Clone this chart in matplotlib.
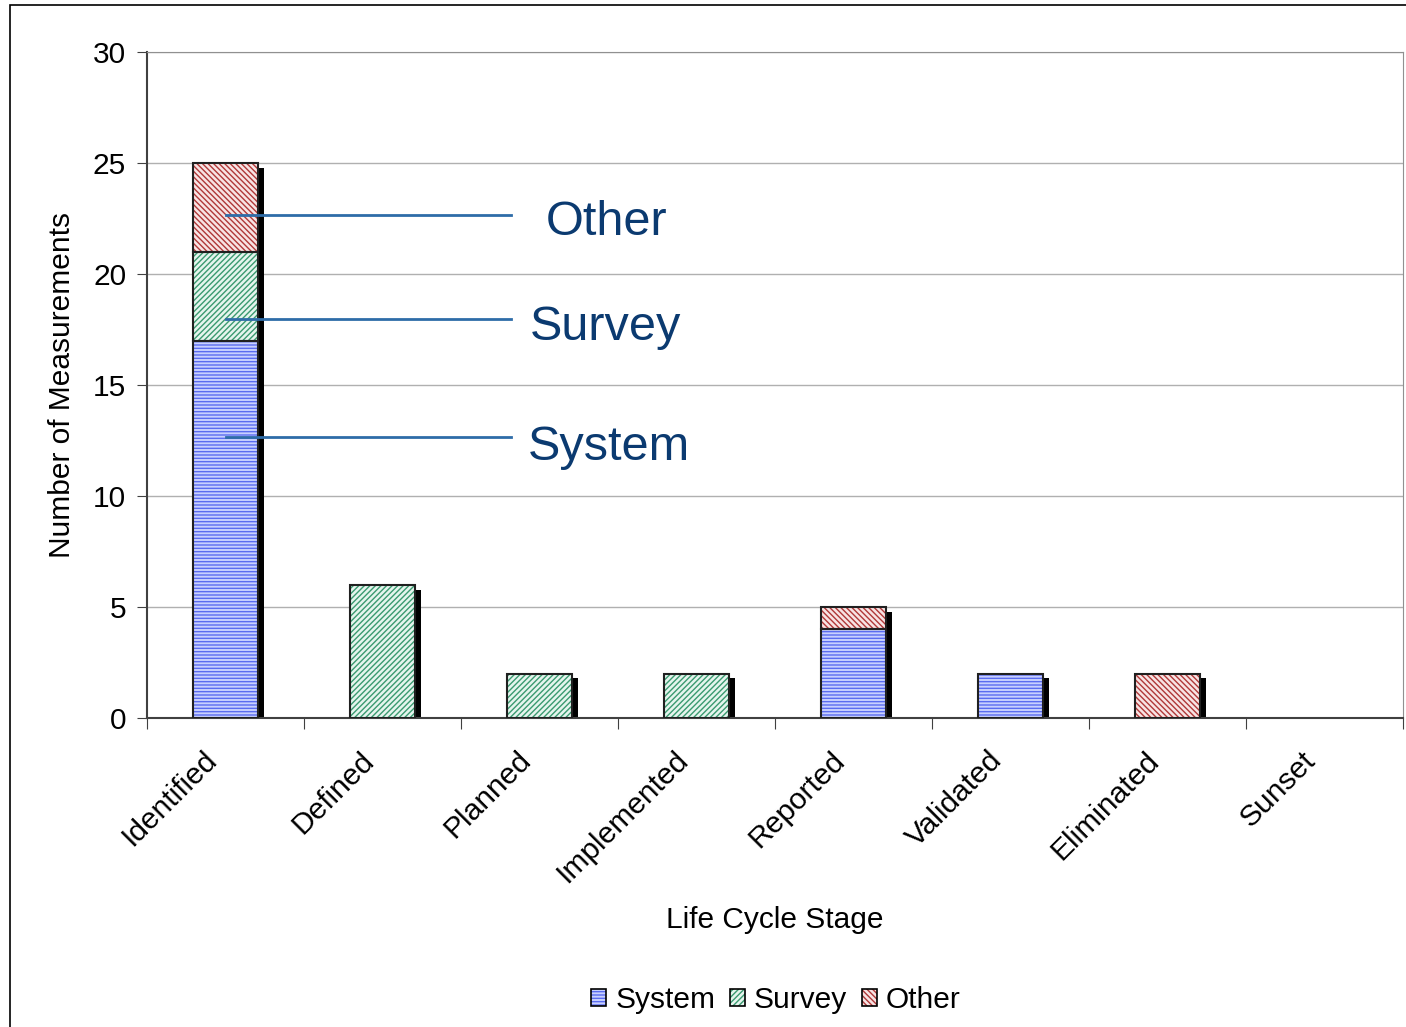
import numpy as np
import matplotlib
matplotlib.use("Agg")
import matplotlib.pyplot as plt
import matplotlib.transforms as mtransforms
from matplotlib.patches import Rectangle
from matplotlib.legend_handler import HandlerTuple

plt.rcParams['font.family'] = ['Liberation Sans', 'DejaVu Sans']

stages = ["Identified", "Defined", "Planned", "Implemented",
          "Reported", "Validated", "Eliminated", "Sunset"]
system = [17, 0, 0, 0, 4, 2, 0, 0]
survey = [4, 6, 2, 2, 0, 0, 0, 0]
other = [4, 0, 0, 0, 1, 0, 2, 0]

series = [("System", system, "#c8d0ff", "#5a6cf0", "-----"),
          ("Survey", survey, "#e6f5ee", "#3a9a70", "//////"),
          ("Other", other, "#f8e4e4", "#b03838", "\\\\\\\\\\\\")]

FS = 21.5

fig = plt.figure(figsize=(14.06, 10.27), dpi=100)
# outer chart border
fig.patches.append(Rectangle((10 / 1406, -0.01), 1.0, 1 - 5 / 1027 + 0.01,
                             transform=fig.transFigure, fill=False,
                             edgecolor="black", linewidth=1.2))
ax = fig.add_axes([147 / 1406, 309 / 1027, 1256 / 1406, 666 / 1027])

x = np.arange(len(stages))
width = 0.41
dx, dy = 0.04, 0.22  # shadow offset in data units

bottom = np.zeros(len(stages))
for name, vals, face, hcol, hatch in series:
    vals = np.array(vals, dtype=float)
    has = vals > 0
    for i in np.where(has)[0]:
        # shadow
        ax.add_patch(Rectangle((x[i] - width / 2 + dx, bottom[i] - dy),
                               width, vals[i], facecolor="black",
                               edgecolor="none", zorder=2))
    ax.bar(x[has], vals[has], width, bottom=bottom[has], color=face,
           hatch=hatch, edgecolor=hcol, linewidth=0, zorder=3)
    ax.bar(x[has], vals[has], width, bottom=bottom[has], fill=False,
           edgecolor="#202020", linewidth=1.5, zorder=4)
    bottom += vals

ax.set_xlim(-0.5, len(stages) - 0.5)
ax.set_ylim(0, 30)
ax.set_yticks(range(0, 31, 5))
ax.yaxis.grid(True, color="#b0b0b0", linewidth=1)
ax.set_axisbelow(True)

# category boundaries as ticks, names placed as rotated text
ax.set_xticks(np.arange(len(stages) + 1) - 0.5)
ax.set_xticklabels([])
ax.tick_params(axis="x", length=8, direction="out", color="#404040")
ax.tick_params(axis="y", length=7, labelsize=FS, color="#404040", pad=8)
shift = mtransforms.ScaledTranslation(-0.13, -0.38, fig.dpi_scale_trans)
for xi, name in zip(x, stages):
    ax.text(xi, 0, name, fontsize=FS, rotation=45, ha="right", va="center",
            rotation_mode="anchor", transform=ax.transData + shift,
            clip_on=False)

for s in ["top", "right"]:
    ax.spines[s].set_color("#909090")
for s in ["left", "bottom"]:
    ax.spines[s].set_color("#404040")
    ax.spines[s].set_linewidth(1.5)

ax.set_ylabel("Number of Measurements", fontsize=FS, labelpad=12)
fig.text(775 / 1406, 1 - 920 / 1027, "Life Cycle Stage", fontsize=FS,
         ha="center", va="center")

# callouts on the first bar
labels = ["Other", "Survey", "System"]
line_y = [22.66, 17.97, 12.66]
text_xy = [(2.43, 22.34), (2.42, 17.6), (2.44, 12.2)]
for lab, ly, (tx, ty) in zip(labels, line_y, text_xy):
    ax.plot([0.0, 1.82], [ly, ly], color="#2e6ca8", linewidth=2, zorder=5)
    ax.text(tx, ty, lab, fontsize=35, color="#0b3a70",
            ha="center", va="center", zorder=5)

handles = [(Rectangle((0, 0), 1, 1, facecolor=f, hatch=h, edgecolor=c,
                      linewidth=0),
            Rectangle((0, 0), 1, 1, fill=False, edgecolor="black",
                      linewidth=1.2))
           for _, _, f, c, h in series]
fig.legend(handles, [s[0] for s in series], loc="center",
           bbox_to_anchor=(776 / 1406, 1 - 1000 / 1027), ncol=3,
           frameon=False, fontsize=FS, handlelength=0.5,
           handleheight=0.5, handletextpad=0.3, columnspacing=0.5,
           handler_map={tuple: HandlerTuple(ndivide=1, pad=0)})

fig.savefig("out.png", dpi=100)
